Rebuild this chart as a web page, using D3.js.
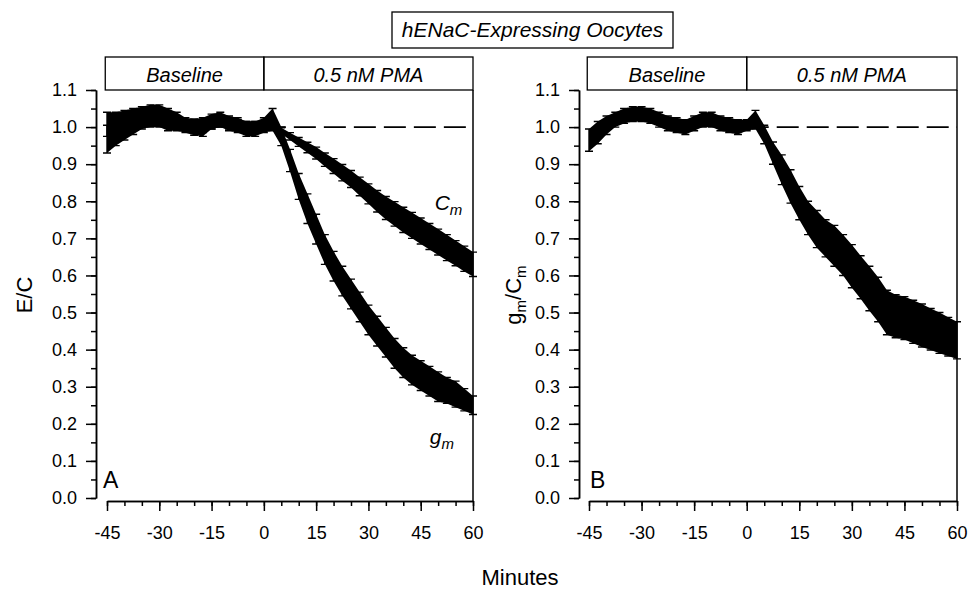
<!DOCTYPE html>
<html>
<head>
<meta charset="utf-8">
<script src="https://cdn.jsdelivr.net/npm/d3@7"></script>
<style>
  body { margin: 0; background: #fff; }
  svg { font-family: "Liberation Sans", Arial, sans-serif; }
</style>
</head>
<body>
<div id="chart"></div>
<script>
// time points (min)
const minutes = [-45, -42.5, -40, -37.5, -35, -32.5, -30, -27.5, -25, -22.5, -20, -17.5, -15, -12.5, -10, -7.5, -5, -2.5,
  0, 2.5, 5, 7.5, 10, 12.5, 15, 17.5, 20, 22.5, 25, 27.5, 30, 32.5, 35, 37.5, 40, 42.5, 45, 47.5, 50, 52.5, 55, 57.5, 60];

// panel A, g_m (E/C) mean and SEM
const gmA = [0.985, 0.995, 1.005, 1.015, 1.025, 1.03, 1.03, 1.02, 1.015, 1.005, 1.0, 1.0, 1.015, 1.02, 1.01, 1.005, 0.995, 0.995,
  1.005, 1.02, 0.975, 0.91, 0.84, 0.78, 0.725, 0.67, 0.625, 0.585, 0.55, 0.515, 0.48, 0.45, 0.42, 0.39, 0.365, 0.345, 0.33, 0.315, 0.30, 0.29, 0.28, 0.265, 0.25];
const gmASem = [0.055, 0.045, 0.04, 0.035, 0.03, 0.03, 0.03, 0.03, 0.025, 0.02, 0.022, 0.025, 0.02, 0.02, 0.02, 0.02, 0.02, 0.02,
  0.02, 0.03, 0.025, 0.03, 0.035, 0.04, 0.04, 0.04, 0.04, 0.04, 0.04, 0.04, 0.04, 0.04, 0.04, 0.04, 0.04, 0.04, 0.04, 0.04, 0.04, 0.035, 0.035, 0.03, 0.025];

// panel A, C_m (E/C) mean and SEM
const cmA = [0.99, 1.0, 1.005, 1.015, 1.02, 1.025, 1.025, 1.02, 1.015, 1.005, 1.0, 1.0, 1.01, 1.015, 1.01, 1.005, 1.0, 1.0,
  1.005, 1.01, 0.99, 0.975, 0.96, 0.945, 0.93, 0.912, 0.895, 0.877, 0.86, 0.84, 0.82, 0.80, 0.782, 0.766, 0.75, 0.735, 0.72, 0.705, 0.69, 0.675, 0.66, 0.645, 0.63];
const cmASem = [0.015, 0.015, 0.015, 0.015, 0.015, 0.015, 0.015, 0.015, 0.015, 0.015, 0.015, 0.015, 0.015, 0.015, 0.015, 0.015, 0.015, 0.015,
  0.01, 0.01, 0.008, 0.01, 0.012, 0.014, 0.016, 0.018, 0.02, 0.022, 0.023, 0.025, 0.027, 0.029, 0.031, 0.033, 0.034, 0.035, 0.035, 0.035, 0.035, 0.035, 0.034, 0.034, 0.033];

// panel B, g_m/C_m mean and SEM
const ratioB = [0.965, 0.985, 1.005, 1.02, 1.03, 1.035, 1.035, 1.03, 1.02, 1.01, 1.005, 1.0, 1.01, 1.02, 1.02, 1.01, 1.005, 1.0,
  1.005, 1.02, 0.98, 0.93, 0.885, 0.84, 0.795, 0.755, 0.725, 0.70, 0.68, 0.655, 0.625, 0.595, 0.565, 0.535, 0.50, 0.49, 0.485, 0.475, 0.465, 0.455, 0.445, 0.435, 0.425];
const ratioBSem = [0.03, 0.03, 0.025, 0.02, 0.02, 0.02, 0.02, 0.02, 0.02, 0.02, 0.02, 0.02, 0.02, 0.02, 0.02, 0.02, 0.02, 0.02,
  0.015, 0.025, 0.025, 0.03, 0.04, 0.045, 0.045, 0.045, 0.05, 0.05, 0.055, 0.055, 0.058, 0.058, 0.06, 0.06, 0.06, 0.058, 0.058, 0.058, 0.058, 0.056, 0.055, 0.052, 0.05];

const xTickValues = [-45, -30, -15, 0, 15, 30, 45, 60];
const yTickValues = [0.0, 0.1, 0.2, 0.3, 0.4, 0.5, 0.6, 0.7, 0.8, 0.9, 1.0, 1.1];
const phaseLabels = ["Baseline", "0.5 nM PMA"];
const phaseStart = [-45.5, 0];
const phaseEnd = [0, 60];
const refLevel = 1.0;

const svg = d3.select("#chart").append("svg")
    .attr("width", 970)
    .attr("height", 593);

const y = d3.scaleLinear().domain([0, 1.1]).range([498, 90]);
const xAxisY = 501;

function toPoints(vals, sems) {
  return minutes.map((m, i) => ({ m: m, v: vals[i], e: sems[i] }));
}

function drawPanel(p) {
  const x = d3.scaleLinear().domain([-45, 60]).range(p.xRange);
  const g = svg.append("g");

  // phase boxes on top
  phaseLabels.forEach((lab, i) => {
    g.append("rect")
      .attr("x", x(phaseStart[i])).attr("y", 57)
      .attr("width", x(phaseEnd[i]) - x(phaseStart[i])).attr("height", y(1.1) - 57)
      .attr("fill", "none").attr("stroke", "#000").attr("stroke-width", 1.3);
    g.append("text")
      .attr("x", (x(phaseStart[i]) + x(phaseEnd[i])) / 2).attr("y", 82)
      .attr("text-anchor", "middle").attr("font-size", 20).attr("font-style", "italic")
      .text(lab);
  });

  // right border
  g.append("line")
    .attr("x1", x(60)).attr("x2", x(60)).attr("y1", y(1.1)).attr("y2", xAxisY)
    .attr("stroke", "#000").attr("stroke-width", 1.5);

  // dashed control level
  g.append("path")
    .datum([{ m: 0, v: refLevel }, { m: 60, v: refLevel }])
    .attr("d", d3.line().x(d => x(d.m)).y(d => y(d.v)))
    .attr("stroke", "#000").attr("stroke-width", 1.6).attr("stroke-dasharray", "22,8").attr("fill", "none");

  // data bands with error bars
  p.series.forEach(s => {
    const pts = toPoints(s.vals, s.sems);
    g.append("path")
      .datum(pts)
      .attr("d", d3.area().x(d => x(d.m)).y0(d => y(d.v - d.e)).y1(d => y(d.v + d.e)))
      .attr("fill", "#000");
    g.append("g").selectAll("path")
      .data(pts)
      .enter().append("path")
        .attr("d", d => {
          const cx = x(d.m), lo = y(d.v - d.e), hi = y(d.v + d.e);
          return `M${cx - 4},${lo}H${cx + 4}M${cx},${lo}V${hi}M${cx - 4},${hi}H${cx + 4}`;
        })
        .attr("stroke", "#000").attr("stroke-width", 1.4).attr("fill", "none");
  });

  // y axis
  const yAx = g.append("g").attr("transform", `translate(${p.yAxisX},0)`);
  yAx.call(d3.axisLeft(y).tickValues(yTickValues).tickFormat(d3.format(".1f")).tickSize(10).tickSizeOuter(0).tickPadding(9));
  const yMinor = g.append("g").attr("transform", `translate(${p.yAxisX},0)`);
  yMinor.call(d3.axisLeft(y).ticks(22).tickFormat("").tickSize(5).tickSizeOuter(0));

  // x axis (plain hyphen for negatives, as in the figure)
  const xAx = g.append("g").attr("transform", `translate(0,${xAxisY})`);
  xAx.call(d3.axisBottom(x).tickValues(xTickValues).tickFormat(d => String(d)).tickSize(10).tickSizeOuter(0).tickPadding(15));
  const xMinor = g.append("g").attr("transform", `translate(0,${xAxisY})`);
  xMinor.call(d3.axisBottom(x).ticks(21).tickFormat("").tickSize(5).tickSizeOuter(0));

  [yAx, yMinor, xAx, xMinor].forEach(a => {
    a.selectAll("path, line").attr("stroke", "#000").attr("stroke-width", 1.5);
    a.selectAll("text").attr("font-size", 18).attr("fill", "#000")
      .attr("font-family", "'Liberation Sans', Arial, sans-serif");
  });

  // panel letter
  g.append("text").attr("x", p.letterX).attr("y", 488)
    .attr("font-size", 23).text(p.letter);

  // y axis title
  const yt = g.append("text")
    .attr("transform", `translate(${p.titleX},295) rotate(-90)`)
    .attr("text-anchor", "middle").attr("font-size", 22);
  p.yTitle.forEach(part => {
    const t = yt.append("tspan").text(part.t);
    if (part.sub) t.attr("font-size", 15).attr("dy", 5);
    else if (part.back) t.attr("dy", -5);
  });

  // series labels
  (p.labels || []).forEach(l => {
    const t = g.append("text").attr("x", x(l.m)).attr("y", y(l.v))
      .attr("font-size", 21).attr("font-style", "italic");
    t.append("tspan").text(l.main);
    t.append("tspan").attr("font-size", 15).attr("dy", 5).text(l.sub);
  });
}

drawPanel({
  xRange: [107, 473], yAxisX: 96, letter: "A", letterX: 103, titleX: 32,
  yTitle: [{ t: "E/C" }],
  series: [{ vals: cmA, sems: cmASem }, { vals: gmA, sems: gmASem }],
  labels: [{ m: 49, v: 0.776, main: "C", sub: "m" }, { m: 47.6, v: 0.146, main: "g", sub: "m" }]
});

drawPanel({
  xRange: [589, 957], yAxisX: 579, letter: "B", letterX: 590, titleX: 521,
  yTitle: [{ t: "g" }, { t: "m", sub: true }, { t: "/C", back: true }, { t: "m", sub: true }],
  series: [{ vals: ratioB, sems: ratioBSem }]
});

// title box
svg.append("rect").attr("x", 392).attr("y", 12).attr("width", 281).attr("height", 36)
  .attr("fill", "none").attr("stroke", "#000").attr("stroke-width", 1.3);
svg.append("text").attr("x", 532.5).attr("y", 37).attr("text-anchor", "middle")
  .attr("font-size", 21).attr("font-style", "italic").text("hENaC-Expressing Oocytes");

// x axis title
svg.append("text").attr("x", 520).attr("y", 585).attr("text-anchor", "middle")
  .attr("font-size", 22).text("Minutes");
</script>
</body>
</html>
